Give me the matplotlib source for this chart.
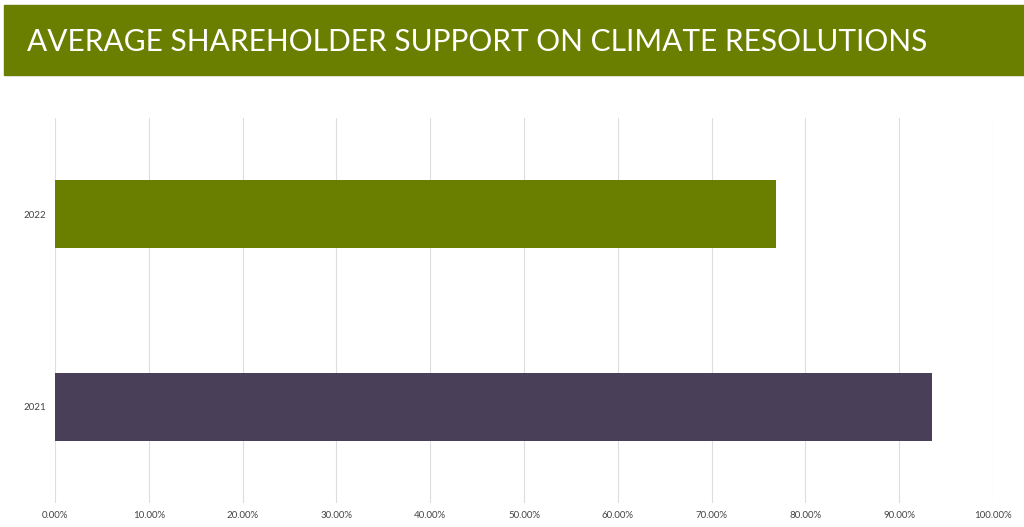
import matplotlib
matplotlib.use("Agg")
import matplotlib.pyplot as plt
from matplotlib.patches import Rectangle

years = ["2021", "2022"]
support = [93.5, 76.9]
colors = ["#4a3f58", "#6a7f00"]
ticks = [0, 10, 20, 30, 40, 50, 60, 70, 80, 90, 100]

plt.rcParams['font.family'] = ['Lato', 'DejaVu Sans']
fig = plt.figure(figsize=(10.24, 5.27), dpi=100)
fig.patches.append(Rectangle((4/1024, 1-75/527), 1020/1024, 70/527, transform=fig.transFigure,
                             color="#6a7f00", zorder=0))
fig.text(27/1024, 1-42/527, "AVERAGE SHAREHOLDER SUPPORT ON CLIMATE RESOLUTIONS",
         color="white", fontsize=21.5, va="center", ha="left")

ax = fig.add_axes([55/1024, 1-503/527, 938/1024, (503-118)/527])
ax.barh(range(len(years)), support, color=colors, height=0.355, zorder=2)
ax.set_xlim(0, 100)
ax.set_ylim(-0.5, 1.5)
ax.set_yticks(range(len(years)))
ax.set_yticklabels(years, fontsize=7, color="#444444")
ax.set_xticks(ticks)
ax.set_xticklabels([f"{t:.2f}%" for t in ticks], fontsize=7, color="#444444")
ax.grid(axis="x", color="#dddddd", linewidth=0.8, zorder=0)
for s in ax.spines.values():
    s.set_visible(False)
ax.tick_params(length=0, pad=6)
fig.savefig("out.png", dpi=100)
